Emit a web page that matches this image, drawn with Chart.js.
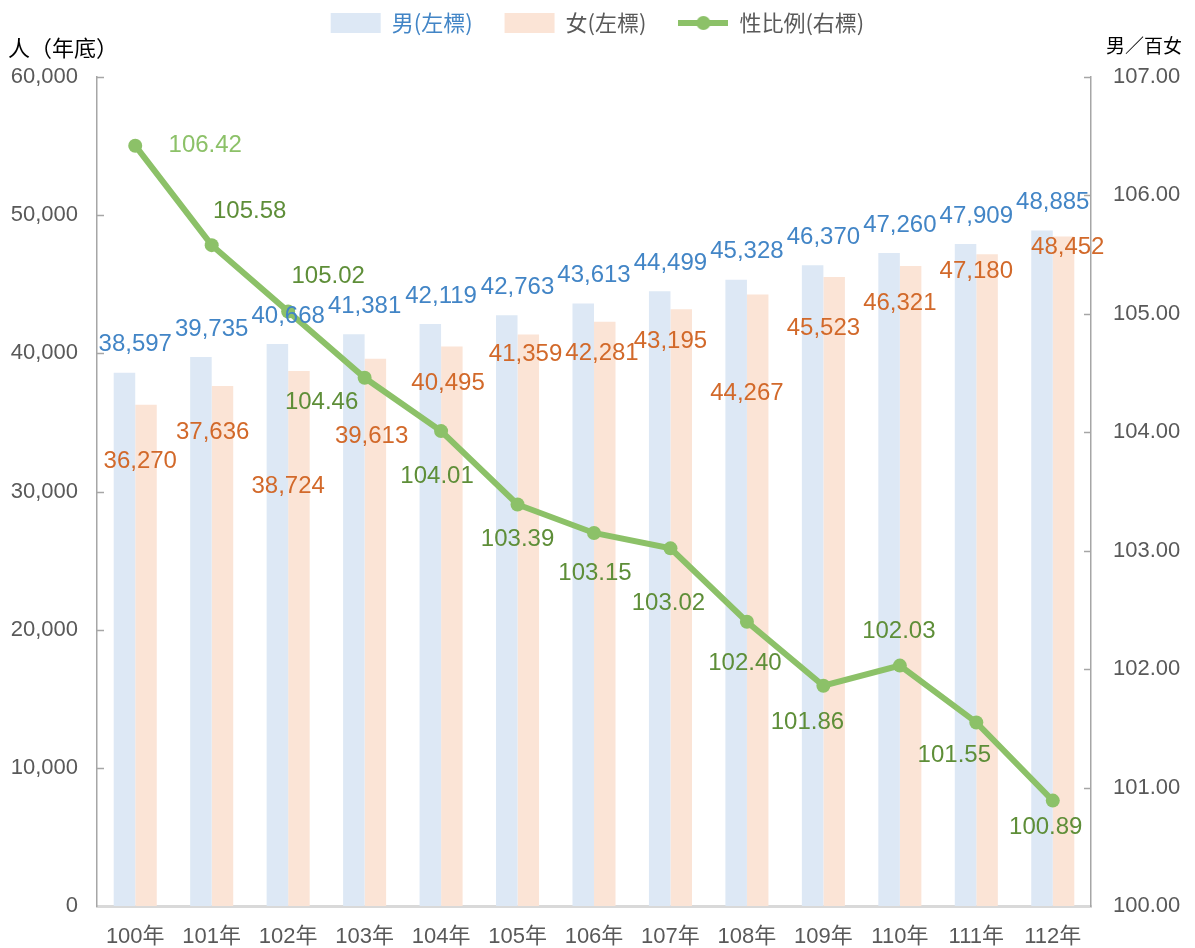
<!DOCTYPE html>
<html>
<head>
<meta charset="utf-8">
<script src="https://cdn.jsdelivr.net/npm/chart.js@4.4.1/dist/chart.umd.min.js"></script>
<style>
  html, body { margin: 0; padding: 0; background: #fff; }
  #wrap { width: 1195px; height: 948px; position: relative; }
</style>
</head>
<body>
<div id="wrap"><canvas id="c"></canvas></div>
<script>
const years = ['100年', '101年', '102年', '103年', '104年', '105年', '106年', '107年', '108年', '109年', '110年', '111年', '112年']
const male = [38597, 39735, 40668, 41381, 42119, 42763, 43613, 44499, 45328, 46370, 47260, 47909, 48885]
const female = [36270, 37636, 38724, 39613, 40495, 41359, 42281, 43195, 44267, 45523, 46321, 47180, 48452]
const ratio = [106.42, 105.58, 105.02, 104.46, 104.01, 103.39, 103.15, 103.02, 102.40, 101.86, 102.03, 101.55, 100.89]

// hand placed label offsets (dx, dy in px), like the excel chart
const femaleLabelOffsets = [[5, 57], [1, 46], [0, 115], [7, 78], [7, 37], [8, 20], [8, 32], [0, 32], [0, 99], [0, 51], [0, 37], [0, 17], [15, 11]]
const ratioLabelOffsets = [[70, 0], [38, -34], [40, -35], [-43, 25], [-4, 45], [0, 35], [1, 40], [-2, 55], [-2, 42], [-16, 37], [-1, -34], [-22, 33], [-7, 27]]
const ratioLightLabels = [0]

const BLUE = '#4285c6'
const ORANGE = '#d2692a'
const GREEN = '#8cc168'
const GREEN_DARK = '#5e8e38'
const GREY = '#595959'
const NUM_FONT = '"Liberation Sans", "Noto Sans CJK TC", sans-serif'
const CJK_FONT = '"Noto Sans CJK TC", "Liberation Sans", sans-serif'

// legend marker for the line: line with a dot
const lineMark = document.createElement('canvas')
lineMark.width = 50
lineMark.height = 20
{
  const g = lineMark.getContext('2d')
  g.strokeStyle = GREEN
  g.lineWidth = 6
  g.beginPath(); g.moveTo(0, 10); g.lineTo(50, 10); g.stroke()
  g.fillStyle = GREEN
  g.beginPath(); g.arc(25, 10, 7, 0, Math.PI * 2); g.fill()
}

const fmt = v => v.toLocaleString('en-US')

const extras = {
  id: 'extras',
  beforeInit (chart) {
    const legend = chart.legend
    const fit = legend.fit
    legend.fit = function () {
      fit.bind(legend)()
      this.height = 77
    }
    // wide item spacing but keep the row near the top
    const draw = legend.draw
    legend.draw = function () {
      chart.ctx.save()
      chart.ctx.translate(0, -20)
      draw.apply(legend, arguments)
      chart.ctx.restore()
    }
  },
  afterDatasetsDraw (chart) {
    const ctx = chart.ctx
    const x = chart.scales.x
    const yL = chart.scales.y
    const yR = chart.scales.y1
    const area = chart.chartArea
    ctx.save()
    // inner tick marks
    ctx.strokeStyle = '#a6a6a6'
    ctx.lineWidth = 1.5
    yL.ticks.forEach((t, i) => {
      const py = Math.round(yL.getPixelForTick(i)) + 0.5
      if (i === 0) return
      ctx.beginPath(); ctx.moveTo(area.left, py); ctx.lineTo(area.left + 7, py); ctx.stroke()
    })
    yR.ticks.forEach((t, i) => {
      const py = Math.round(yR.getPixelForTick(i)) + 0.5
      if (i === 0) return
      ctx.beginPath(); ctx.moveTo(area.right - 7, py); ctx.lineTo(area.right, py); ctx.stroke()
    })

    ctx.font = '24px ' + NUM_FONT
    ctx.textAlign = 'center'
    ctx.textBaseline = 'middle'
    years.forEach((y, i) => {
      const cx = x.getPixelForValue(i)
      ctx.fillStyle = BLUE
      ctx.fillText(fmt(male[i]), cx, yL.getPixelForValue(male[i]) - 28)
      const fo = femaleLabelOffsets[i]
      ctx.fillStyle = ORANGE
      ctx.fillText(fmt(female[i]), cx + fo[0], yL.getPixelForValue(female[i]) + fo[1])
      const ro = ratioLabelOffsets[i]
      ctx.fillStyle = ratioLightLabels.includes(i) ? GREEN : GREEN_DARK
      ctx.fillText(ratio[i].toFixed(2), cx + ro[0], yR.getPixelForValue(ratio[i]) + ro[1])
    })

    // axis titles
    ctx.fillStyle = '#000'
    ctx.font = '22px ' + CJK_FONT
    ctx.textAlign = 'left'
    ctx.fillText('人（年底）', 8, 48)
    ctx.font = '19px ' + CJK_FONT
    ctx.textAlign = 'right'
    ctx.fillText('男／百女', 1182, 46)
    ctx.restore()
  }
}

new Chart(document.getElementById('c'), {
  data: {
    labels: years,
    datasets: [
      {
        type: 'line',
        label: '性比例(右標)',
        data: ratio,
        yAxisID: 'y1',
        borderColor: GREEN,
        backgroundColor: GREEN,
        borderWidth: 6,
        pointRadius: 7,
        pointHoverRadius: 7,
        pointBackgroundColor: GREEN,
        pointBorderWidth: 0,
        tension: 0,
        order: 0
      },
      {
        type: 'bar',
        label: '男(左標)',
        data: male,
        yAxisID: 'y',
        backgroundColor: '#dde8f5',
        categoryPercentage: 0.563,
        barPercentage: 1,
        order: 1
      },
      {
        type: 'bar',
        label: '女(左標)',
        data: female,
        yAxisID: 'y',
        backgroundColor: '#fbe4d6',
        categoryPercentage: 0.563,
        barPercentage: 1,
        order: 1
      }
    ]
  },
  options: {
    responsive: true,
    maintainAspectRatio: false,
    animation: false,
    layout: { padding: 0 },
    scales: {
      x: {
        grid: { display: false, drawTicks: false },
        border: { color: '#d9d9d9', width: 3 },
        ticks: { color: GREY, font: { size: 22, family: NUM_FONT }, padding: 18, maxRotation: 0 },
        afterFit (s) { s.height = 42 }
      },
      y: {
        position: 'left',
        min: 0,
        max: 60000,
        grid: { display: false, drawTicks: false },
        border: { color: '#a6a6a6', width: 1.5 },
        ticks: { stepSize: 10000, color: GREY, font: { size: 22, family: NUM_FONT }, padding: 19,
          callback: v => fmt(v) },
        afterFit (s) { s.width = 97 }
      },
      y1: {
        position: 'right',
        min: 100,
        max: 107,
        grid: { display: false, drawTicks: false },
        border: { color: '#a6a6a6', width: 1.5 },
        ticks: { stepSize: 1, color: GREY, font: { size: 22, family: NUM_FONT }, padding: 22,
          callback: v => v.toFixed(2) },
        afterFit (s) { s.width = 104 }
      }
    },
    plugins: {
      legend: {
        position: 'top',
        labels: {
          usePointStyle: true,
          pointStyleWidth: 50,
          boxHeight: 20,
          padding: 32,
          font: { size: 22, family: CJK_FONT },
          generateLabels (chart) {
            return [
              { text: '男(左標)', fillStyle: '#dde8f5', strokeStyle: '#dde8f5', lineWidth: 0, pointStyle: 'rect', fontColor: BLUE, datasetIndex: 1 },
              { text: '女(左標)', fillStyle: '#fbe4d6', strokeStyle: '#fbe4d6', lineWidth: 0, pointStyle: 'rect', fontColor: GREY, datasetIndex: 2 },
              { text: '性比例(右標)', fillStyle: GREEN, strokeStyle: GREEN, lineWidth: 0, pointStyle: lineMark, fontColor: GREY, datasetIndex: 0 }
            ]
          }
        }
      },
      tooltip: { enabled: false }
    }
  },
  plugins: [extras]
})
</script>
</body>
</html>
